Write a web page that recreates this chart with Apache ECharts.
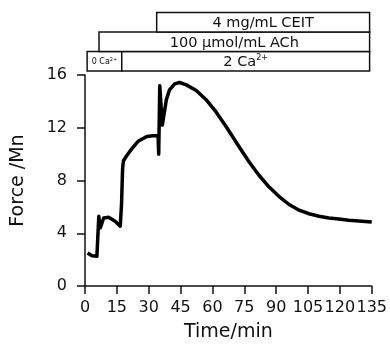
<!DOCTYPE html>
<html>
<head>
<meta charset="utf-8">
<script src="https://cdn.jsdelivr.net/npm/echarts@6/dist/echarts.min.js"></script>
<style>html,body{margin:0;padding:0;background:#fff;}#c{width:390px;height:347px;}</style>
</head>
<body>
<div id="c"></div>
<script>
// Trace
var time = [1.2, 3.3, 5.6, 6.3, 6.5, 7.2, 8.8, 11.1, 14.2, 16.6, 17.2, 17.7, 18.1, 19.7, 22.0, 25.2, 29.1, 32.0, 34.4, 34.7, 35.2, 36.4, 38.3, 39.8, 42.2, 44.5, 47.7, 52.4, 57.0, 61.7, 66.4, 72.7, 77.3, 82.0, 86.7, 91.4, 96.1, 100.8, 105.5, 110.2, 114.8, 119.5, 124.2, 128.9, 135.0];
var force = [2.5, 2.29, 2.25, 2.2, 5.29, 4.41, 5.16, 5.21, 4.91, 4.54, 6.2, 8.9, 9.5, 9.9, 10.4, 11.0, 11.34, 11.39, 11.4, 10.0, 15.18, 12.2, 14.13, 14.88, 15.33, 15.43, 15.25, 14.83, 14.13, 13.2, 12.1, 10.52, 9.4, 8.38, 7.5, 6.78, 6.18, 5.75, 5.48, 5.29, 5.16, 5.08, 4.98, 4.93, 4.86];

// Treatment bars (start/end time in min, row from the axis upward)
var boxLabels = ['{s|0 Ca}{ss|2+}', '{t|2 Ca}{sup|2+}', '{t|100 μmol/mL ACh}', '{t|4 mg/mL CEIT}'];
var boxStart = [1, 17.3, 6.6, 33.75];
var boxEnd = [17.3, 134, 134, 134];
var boxRow = [0, 0, 1, 2];

var xTicks = [0, 135, 15];   // min, max, interval
var yTicks = [0, 16, 4];

var FONT = 'DejaVu Sans';
var chart = echarts.init(document.getElementById('c'));
var line = time.map(function (t, i) { return [t, force[i]]; });
var boxes = boxStart.map(function (s, i) { return [s, boxEnd[i], boxRow[i]]; });

chart.setOption({
  animation: false,
  grid: { left: 85, right: 17, top: 75, bottom: 58 },
  xAxis: {
    type: 'value', min: xTicks[0], max: xTicks[1], interval: xTicks[2],
    name: 'Time/min', nameLocation: 'middle', nameGap: 37,
    nameTextStyle: { fontFamily: FONT, fontSize: 19, color: '#111' },
    axisLine: { show: true, onZero: false, lineStyle: { color: '#111', width: 1.5 } },
    axisTick: { show: true, inside: false, length: 8, lineStyle: { color: '#111', width: 1.5 } },
    axisLabel: { fontFamily: FONT, fontSize: 16, color: '#111', margin: 14 },
    splitLine: { show: false }
  },
  yAxis: {
    type: 'value', min: yTicks[0], max: yTicks[1], interval: yTicks[2], offset: 5,
    name: 'Force /Mn', nameLocation: 'middle', nameGap: 52, nameRotate: 90,
    nameTextStyle: { fontFamily: FONT, fontSize: 19, color: '#111' },
    axisLine: { show: true, lineStyle: { color: '#111', width: 1.5 } },
    axisTick: { show: true, inside: false, length: 8, lineStyle: { color: '#111', width: 1.5 } },
    axisLabel: { fontFamily: FONT, fontSize: 16, color: '#111', margin: 13 },
    splitLine: { show: false }
  },
  series: [
    {
      type: 'line', data: line, showSymbol: false, symbol: 'none',
      lineStyle: { color: '#000', width: 3.5, join: 'round' }, z: 2
    },
    {
      type: 'custom', data: boxes, clip: false, z: 5,
      encode: { x: [0, 1], y: 2 },
      renderItem: function (params, api) {
        var x0 = api.coord([api.value(0), 16])[0];
        var x1 = api.coord([api.value(1), 16])[0];
        var top = api.coord([0, 16])[1];
        var h = 19.5;
        var yb = top - 4 - api.value(2) * h;
        var yt = yb - h;
        return {
          type: 'group',
          children: [
            { type: 'rect', shape: { x: x0, y: yt, width: x1 - x0, height: h },
              style: { fill: '#fff', stroke: '#111', lineWidth: 1.5 } },
            { type: 'text', x: (x0 + x1) / 2, y: (yt + yb) / 2 + 1,
              style: {
                text: boxLabels[params.dataIndex], align: 'center', verticalAlign: 'middle',
                fill: '#111', fontFamily: FONT,
                rich: {
                  t: { fontFamily: FONT, fontSize: 14.5, fill: '#111', color: '#111' },
                  sup: { fontFamily: FONT, fontSize: 8, fill: '#111', color: '#111', padding: [0, 0, 9, 0] },
                  s: { fontFamily: FONT, fontSize: 8, fill: '#111', color: '#111' },
                  ss: { fontFamily: FONT, fontSize: 5, fill: '#111', color: '#111', padding: [0, 0, 5, 0] }
                }
              } }
          ]
        };
      }
    }
  ]
});
</script>
</body>
</html>
